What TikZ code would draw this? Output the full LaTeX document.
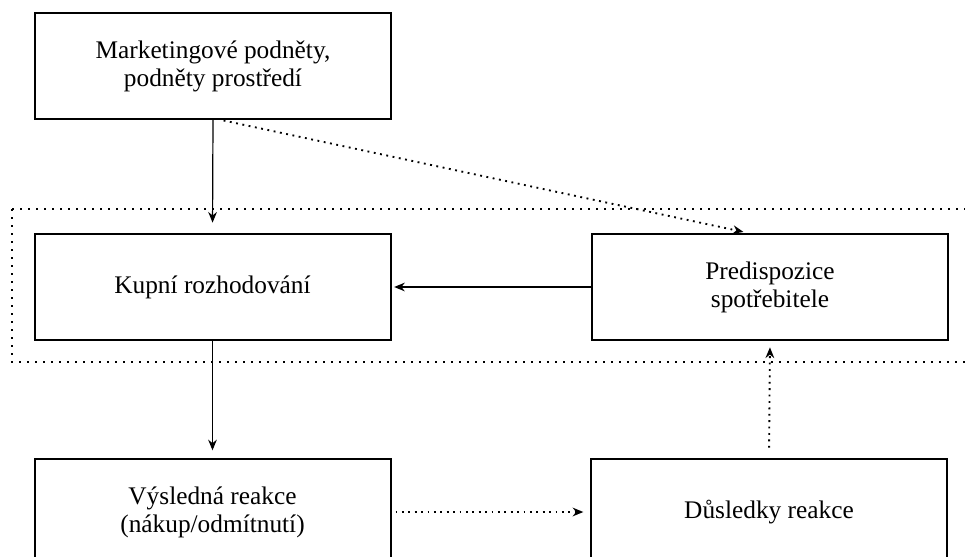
\documentclass[tikz,border=0pt]{standalone}
\usepackage{fontspec}
\setmainfont{Liberation Serif}
\usetikzlibrary{arrows.meta}

\tikzset{
  stagebox/.style={draw, line width=1.5pt, minimum width=267pt, minimum height=79pt,
    align=center, inner sep=0.75pt, font=\fontsize{19}{21}\selectfont},
  solidarrow/.style={line width=0.9pt, -{Stealth[length=8pt,width=6.5pt]}},
  dotarrow/.style={line width=1.4pt, dash pattern=on 1.4pt off 3.4pt,
    -{Stealth[length=8pt,width=6.5pt]}},
  dotframe/.style={line width=1.5pt, dash pattern=on 1.5pt off 4.5pt}
}

\begin{document}
\begin{tikzpicture}[x=0.75pt,y=0.75pt,yscale=-1,xscale=1]
\useasboundingbox (0,0) rectangle (965,557);
\clip (0,0) rectangle (965,557);

%Frame round decision and predisposition
\draw [dotframe] (12,209) -- (980,209) ;
\draw [dotframe] (12,209) -- (12,362) -- (980,362) ;

% Boxes
\node [stagebox] (stimuli) at (213,66) {Marketingové podněty,\\podněty prostředí};
\node [stagebox] (decision) at (212.5,287) {Kupní rozhodování};
\node [stagebox] (predisp) at (770,287) {Predispozice\\spotřebitele};
\node [stagebox] (response) at (212.5,512) {Výsledná reakce\\(nákup/odmítnutí)};
\node [stagebox] (effects) at (769,512) {Důsledky reakce};

% Connectors
\draw [solidarrow, shorten >=8pt] (stimuli.south) -- (decision.north) ;
\draw [solidarrow, shorten >=6pt] (decision.south) -- (response.north) ;
\draw [solidarrow, shorten >=2pt] (predisp.west) -- (decision.east) ;
\draw [dotarrow, shorten <=3pt, shorten >=5pt] ([xshift=5pt]stimuli.south) -- ([xshift=-15pt]predisp.north) ;
\draw [dotarrow, shorten <=3pt, shorten >=5pt] (response.east) -- (effects.west) ;
\draw [dotarrow, shorten <=8pt, shorten >=5pt] (effects.north) -- (predisp.south) ;

\end{tikzpicture}
\end{document}
